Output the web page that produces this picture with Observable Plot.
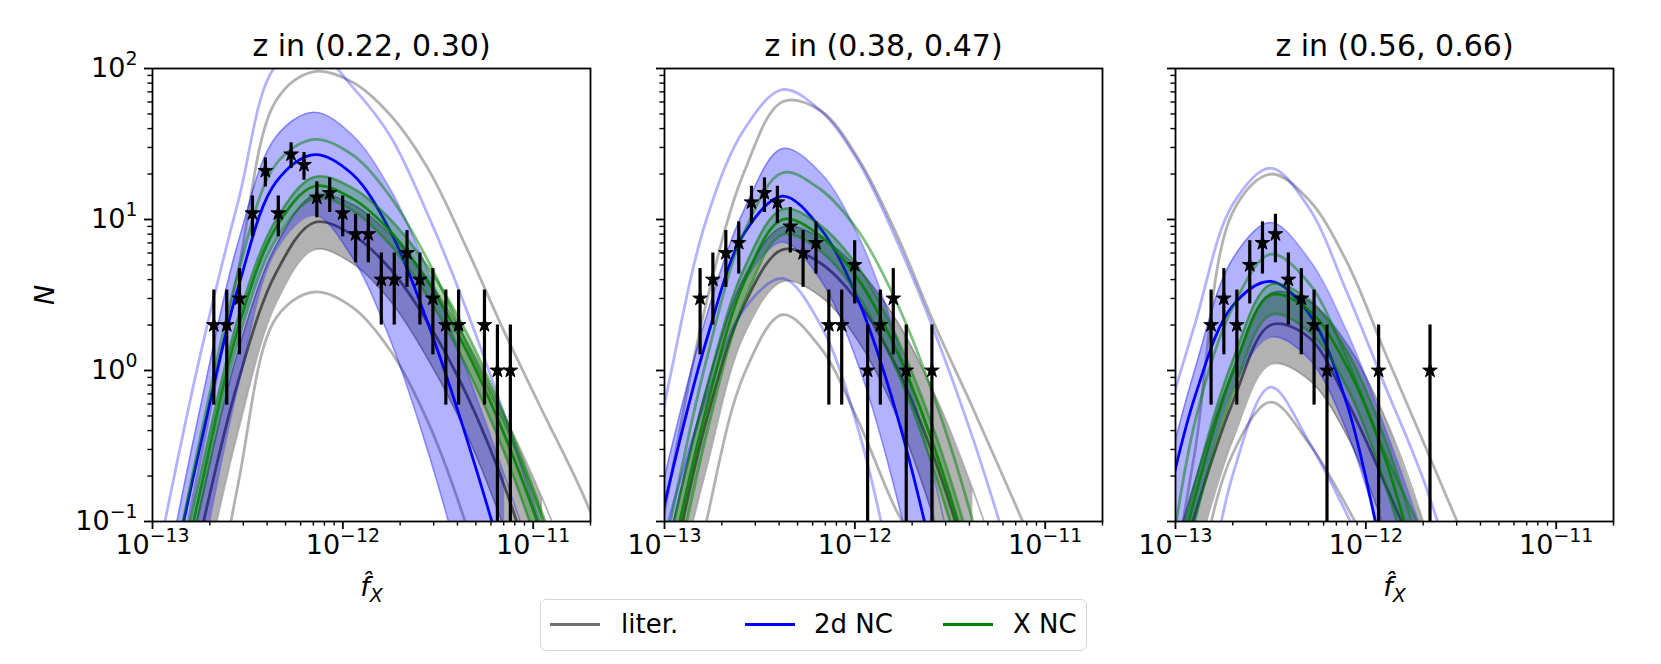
<!DOCTYPE html>
<html><head><meta charset="utf-8">
<script src="https://cdn.jsdelivr.net/npm/d3@7"></script>
<script src="https://cdn.jsdelivr.net/npm/@observablehq/plot@0.6"></script>
<style>
body{margin:0;background:#fff;font-family:"DejaVu Sans",sans-serif;}
#fig{position:relative;width:1661px;height:664px;overflow:hidden;background:#fff;}
#legend{position:absolute;left:540px;top:599px;width:547px;height:52px;box-sizing:border-box;border:1.5px solid #d6d6d6;border-radius:6px;background:rgba(255,255,255,0.8);font-size:26px;color:#000;}
#legend .sw{position:absolute;top:23px;height:3px;width:50px;}
#legend .lb{position:absolute;top:8px;line-height:32px;white-space:nowrap;}
</style></head><body><div id="fig"></div>
<script>
// ---------- data ----------
const titles = ["z in (0.22, 0.30)", "z in (0.38, 0.47)", "z in (0.56, 0.66)"];
const legendLabels = ["liter.", "2d NC", "X NC"];
const xMajor = [1e-13, 1e-12, 1e-11];
const xTickLabels = ["10^\u221213", "10^\u221212", "10^\u221211"];
const xMinor = [2e-13,3e-13,4e-13,5e-13,6e-13,7e-13,8e-13,9e-13,2e-12,3e-12,4e-12,5e-12,6e-12,7e-12,8e-12,9e-12,2e-11];
const yMajor = [0.1, 1, 10, 100];
const yTickLabels = ["10^\u22121", "10^0", "10^1", "10^2"];
const yMinor = [0.2,0.3,0.4,0.5,0.6,0.7,0.8,0.9,2,3,4,5,6,7,8,9,20,30,40,50,60,70,80,90];

// panel 1: z in (0.22, 0.30)
const fX1 = [7.08e-14, 1.12e-13, 1.78e-13, 2.82e-13, 4.47e-13, 7.08e-13, 1.12e-12, 1.78e-12, 2.82e-12, 4.47e-12, 7.08e-12, 1.12e-11, 1.78e-11, 2.82e-11];
const litHi1 = [null, 0.0126, 0.251, 4.57, 61.7, 95.5, 81.3, 49.0, 21.4, 6.46, 1.78, 0.537, 0.162, 0.0398];
const litMid1 = [null, 0.005, 0.0794, 0.851, 4.47, 9.55, 7.94, 4.68, 2.04, 0.692, 0.170, 0.0282, null, null];
const litBandHi1 = [null, 0.0079, 0.126, 1.35, 6.76, 14.5, 12.6, 7.94, 3.98, 1.58, 0.501, 0.141, 0.0316, 0.005];
const litBandLo1 = [null, 0.002, 0.0316, 0.398, 2.82, 6.31, 5.13, 2.88, 1.17, 0.38, 0.0891, 0.0158, null, null];
const litLo1 = [null, null, 0.0063, 0.178, 2.24, 3.31, 2.63, 1.35, 0.447, 0.0933, 0.0126, null, null, null];
const blueHi1 = [0.004, 0.0794, 1.26, 13.2, 105, 132, 75.9, 35.5, 10.5, 2.51, 0.501, 0.0832, 0.0126, null];
const blueBandHi1 = [0.0016, 0.0316, 0.562, 7.08, 35.5, 51.3, 36.3, 15.8, 4.47, 1.0, 0.2, 0.0355, 0.005, null];
const blueMid1 = [0.001, 0.02, 0.316, 3.55, 17.8, 26.9, 20.0, 8.32, 2.0, 0.355, 0.0501, 0.005, null, null];
const blueBandLo1 = [null, 0.00316, 0.0501, 0.794, 6.31, 10.7, 5.62, 1.58, 0.282, 0.0355, 0.00316, null, null, null];
const blueLo1 = null;
const greenHi1 = [0.001, 0.02, 0.355, 4.47, 23.4, 33.9, 26.9, 14.1, 5.25, 1.51, 0.447, 0.105, 0.02, 0.0025];
const greenBandHi1 = [null, 0.0126, 0.2, 2.24, 10.0, 19.1, 16.2, 10.0, 4.79, 1.78, 0.501, 0.112, 0.02, 0.0025];
const greenMid1 = [null, 0.01, 0.158, 1.91, 8.91, 16.6, 13.8, 8.32, 3.8, 1.35, 0.372, 0.0794, 0.0126, null];
const greenBandLo1 = [null, 0.0079, 0.126, 1.58, 7.41, 13.8, 11.5, 6.76, 3.02, 1.05, 0.282, 0.0562, 0.0089, null];
const starFX1 = [2.10e-13, 2.455e-13, 2.864e-13, 3.35e-13, 3.917e-13, 4.58e-13, 5.346e-13, 6.25e-13, 7.3e-13, 8.53e-13, 9.98e-13, 1.167e-12, 1.361e-12, 1.592e-12, 1.862e-12, 2.173e-12, 2.54e-12, 2.972e-12, 3.475e-12, 4.055e-12, 5.546e-12, 6.486e-12, 7.586e-12];
const starN1 = [2, 2, 3, 11, 21, 11, 27, 23, 14, 15, 11, 8, 8, 4, 4, 6, 4, 3, 2, 2, 2, 1, 1];
const starErr1 = [1.41, 1.41, 1.73, 3.32, 4.58, 3.32, 5.2, 4.8, 3.74, 3.87, 3.32, 2.83, 2.83, 2, 2, 2.45, 2, 1.73, 1.41, 1.41, 1.41, 1, 1];

// panel 2: z in (0.38, 0.47)
const fX2 = [6.61e-14, 1.047e-13, 1.66e-13, 2.63e-13, 4.17e-13, 6.61e-13, 1.047e-12, 1.66e-12, 2.63e-12, 4.17e-12, 6.61e-12, 1.047e-11, 1.66e-11, 2.63e-11];
const litHi2 = [0.005, 0.158, 2.82, 20.9, 60.3, 52.5, 25.1, 7.94, 2.0, 0.562, 0.151, 0.0398, 0.01, null];
const litMid2 = [0.002, 0.0355, 0.468, 2.75, 6.31, 5.13, 2.82, 1.05, 0.257, 0.0417, 0.005, null, null, null];
const litBandHi2 = [0.00447, 0.0708, 0.759, 4.17, 8.91, 7.59, 4.68, 2.14, 0.692, 0.162, 0.0282, 0.00355, null, null];
const litBandLo2 = [0.00126, 0.02, 0.224, 1.74, 3.89, 3.09, 1.55, 0.501, 0.1, 0.0126, null, null, null, null];
const litLo2 = [null, 0.005, 0.1, 0.955, 2.34, 1.41, 0.457, 0.117, 0.0447, 0.0158, null, null, null, null];
const blueHi2 = [0.0398, 0.794, 10.0, 39.8, 72.4, 52.5, 24.0, 7.24, 1.78, 0.355, 0.0562, 0.00794, null, null];
const blueBandHi2 = [0.0178, 0.251, 2.29, 11.7, 29.5, 20.4, 7.76, 1.62, 0.186, 0.0126, null, null, null, null];
const blueMid2 = [0.0112, 0.166, 1.58, 8.13, 14.3, 8.71, 2.88, 0.513, 0.0501, 0.0025, null, null, null, null];
const blueBandLo2 = [0.00398, 0.0676, 0.708, 3.89, 7.08, 3.98, 1.07, 0.145, 0.01, null, null, null, null, null];
const blueLo2 = [0.01, 0.1, 0.661, 2.57, 4.07, 2.0, 0.398, 0.0316, 0.001, null, null, null, null, null];
const greenHi2 = [0.00398, 0.0851, 1.17, 8.32, 20.4, 15.8, 8.32, 2.82, 0.646, 0.1, 0.01, null, null, null];
const greenBandHi2 = [0.00398, 0.0676, 0.759, 4.79, 11.7, 9.12, 4.79, 1.66, 0.389, 0.0603, 0.0063, null, null, null];
const greenMid2 = [0.0025, 0.0447, 0.562, 3.89, 10.0, 7.76, 3.98, 1.35, 0.302, 0.0447, 0.00398, null, null, null];
const greenBandLo2 = [0.00126, 0.0251, 0.372, 2.88, 7.94, 6.17, 3.09, 1.0, 0.209, 0.0288, 0.0025, null, null, null];
const starFX2 = [1.538e-13, 1.795e-13, 2.10e-13, 2.455e-13, 2.864e-13, 3.35e-13, 3.917e-13, 4.58e-13, 5.346e-13, 6.25e-13, 7.3e-13, 8.53e-13, 9.98e-13, 1.167e-12, 1.361e-12, 1.592e-12, 1.862e-12, 2.54e-12];
const starN2 = [3, 4, 6, 7, 13, 15, 13, 9, 6, 7, 2, 2, 5, 1, 2, 3, 1, 1];
const starErr2 = [1.73, 2, 2.45, 2.65, 3.61, 3.87, 3.61, 3, 2.45, 2.65, 1.41, 1.41, 2.24, 1, 1.41, 1.73, 1, 1];

// panel 3: z in (0.56, 0.66)
const fX3 = [7.94e-14, 1.26e-13, 2.0e-13, 3.16e-13, 5.01e-13, 7.94e-13, 1.26e-12, 2.0e-12, 3.16e-12, 5.01e-12, 7.94e-12, 1.26e-11, 2.0e-11, 3.16e-11];
const litHi3 = [0.01, 0.282, 11.2, 20.0, 13.5, 5.25, 1.32, 0.339, 0.0871, 0.0224, 0.005, null, null, null];
const litMid3 = [0.0126, 0.11, 0.617, 2.0, 1.66, 0.631, 0.178, 0.0447, 0.00794, null, null, null, null, null];
const litBandHi3 = [0.0224, 0.182, 1.0, 3.24, 2.88, 1.51, 0.49, 0.1, 0.0105, null, null, null, null, null];
const litBandLo3 = [0.005, 0.0525, 0.347, 1.1, 0.871, 0.372, 0.0871, 0.01, null, null, null, null, null, null];
const litLo3 = [0.00158, 0.0316, 0.282, 0.617, 0.331, 0.126, 0.0398, 0.01, null, null, null, null, null, null];
const blueHi3 = [0.282, 2.0, 12.6, 21.9, 12.0, 3.31, 0.794, 0.191, 0.0316, 0.00398, null, null, null, null];
const blueBandHi3 = [0.112, 1.0, 5.5, 9.55, 5.5, 1.82, 0.417, 0.0794, 0.0112, null, null, null, null, null];
const blueMid3 = [0.0631, 0.661, 2.69, 3.89, 2.4, 0.603, 0.0501, 0.00316, null, null, null, null, null, null];
const blueBandLo3 = [0.01, 0.1, 0.759, 1.66, 1.2, 0.398, 0.0631, 0.0063, null, null, null, null, null, null];
const blueLo3 = [null, 0.01, 0.204, 0.776, 0.339, 0.112, 0.0316, 0.0063, null, null, null, null, null, null];
const greenHi3 = [0.0126, 0.447, 2.63, 5.89, 3.8, 1.2, 0.282, 0.0794, 0.0158, 0.0025, null, null, null, null];
const greenBandHi3 = [0.0148, 0.174, 1.17, 3.72, 2.95, 1.35, 0.355, 0.0537, 0.00468, null, null, null, null, null];
const greenMid3 = [0.0117, 0.141, 0.977, 3.16, 2.51, 1.07, 0.263, 0.0331, 0.0025, null, null, null, null, null];
const greenBandLo3 = [0.0079, 0.1, 0.708, 2.34, 1.82, 0.776, 0.178, 0.0214, 0.0014, null, null, null, null, null];
const starFX3 = [1.538e-13, 1.795e-13, 2.10e-13, 2.455e-13, 2.864e-13, 3.35e-13, 3.917e-13, 4.58e-13, 5.346e-13, 6.25e-13, 1.167e-12, 2.173e-12];
const starN3 = [2, 3, 2, 5, 7, 8, 4, 3, 2, 1, 1, 1];
const starErr3 = [1.41, 1.73, 1.41, 2.24, 2.65, 2.83, 2, 1.73, 1.41, 1, 1, 1];

// ---------- build ----------
const panels = [
  {fX: fX1, litHi: litHi1, litMid: litMid1, litBandHi: litBandHi1, litBandLo: litBandLo1, litLo: litLo1,
   blueHi: blueHi1, blueBandHi: blueBandHi1, blueMid: blueMid1, blueBandLo: blueBandLo1, blueLo: blueLo1,
   greenHi: greenHi1, greenBandHi: greenBandHi1, greenMid: greenMid1, greenBandLo: greenBandLo1,
   sx: starFX1, sn: starN1, se: starErr1, title: titles[0], yLabels: true, xLabel: true},
  {fX: fX2, litHi: litHi2, litMid: litMid2, litBandHi: litBandHi2, litBandLo: litBandLo2, litLo: litLo2,
   blueHi: blueHi2, blueBandHi: blueBandHi2, blueMid: blueMid2, blueBandLo: blueBandLo2, blueLo: blueLo2,
   greenHi: greenHi2, greenBandHi: greenBandHi2, greenMid: greenMid2, greenBandLo: greenBandLo2,
   sx: starFX2, sn: starN2, se: starErr2, title: titles[1], yLabels: false, xLabel: false},
  {fX: fX3, litHi: litHi3, litMid: litMid3, litBandHi: litBandHi3, litBandLo: litBandLo3, litLo: litLo3,
   blueHi: blueHi3, blueBandHi: blueBandHi3, blueMid: blueMid3, blueBandLo: blueBandLo3, blueLo: blueLo3,
   greenHi: greenHi3, greenBandHi: greenBandHi3, greenMid: greenMid3, greenBandLo: greenBandLo3,
   sx: starFX3, sn: starN3, se: starErr3, title: titles[2], yLabels: false, xLabel: true}
];
const boxes = [{left:0,width:627,ml:152,mr:37},{left:627,width:510,ml:37,mr:35},{left:1137,width:524,ml:38,mr:48}];
const C = "catmull-rom";
const ser = (fX, a) => a ? fX.map((x,i)=>({x, y:a[i]})).filter(d=>d.y!=null) : [];
const bnd = (fX, lo, hi) => fX.map((x,i)=>({x, lo:lo[i], hi:hi[i]})).filter(d=>d.lo!=null && d.hi!=null);
const pts = (fx, n, e) => fx.map((x,i)=>({x, n:n[i], lo: n[i]-e[i] > 0 ? n[i]-e[i] : 1e-3, hi: n[i]+e[i]}));

function fixText(svg){
  d3.select(svg).selectAll("text").each(function(){
    const t = this.textContent;
    let m = t.match(/^(10)\^(.+)$/);
    if (m) {
      this.textContent = "";
      const s = d3.select(this);
      s.append("tspan").text(m[1]);
      s.append("tspan").attr("dy","-0.62em").attr("font-size","0.7em").text(m[2]);
      return;
    }
    m = t.match(/^(.+)_(.+)$/);
    if (m) {
      this.textContent = "";
      const s = d3.select(this);
      s.append("tspan").text(m[1]);
      s.append("tspan").attr("dy","0.3em").attr("font-size","0.7em").text(m[2]);
    }
  });
}

const fig = document.getElementById("fig");
panels.forEach((p, k) => {
  const b = boxes[k];
  const line = (arr, stroke, op, sw) => Plot.line(ser(p.fX, arr), {x:"x", y:"y", stroke, strokeOpacity: op, strokeWidth: sw, curve: C, clip: true});
  const area = (lo, hi, fill, op) => Plot.areaY(bnd(p.fX, lo, hi), {x:"x", y1:"lo", y2:"hi", fill, fillOpacity: op, curve: C, clip: true});
  const stars = pts(p.sx, p.sn, p.se);
  const marks = [
    area(p.litBandLo, p.litBandHi, "black", 0.3),
    line(p.litBandHi, "black", 0.3, 1.7),
    line(p.litBandLo, "black", 0.3, 1.7),
    line(p.litHi, "black", 0.3, 2.8),
    line(p.litLo, "black", 0.3, 2.8),
    line(p.litMid, "black", 0.57, 2.8),
    area(p.blueBandLo, p.blueBandHi, "blue", 0.3),
    line(p.blueBandHi, "blue", 0.3, 1.7),
    line(p.blueBandLo, "blue", 0.3, 1.7),
    line(p.blueHi, "blue", 0.3, 2.8),
    line(p.blueLo, "blue", 0.3, 2.8),
    line(p.blueMid, "blue", 1, 2.8),
    area(p.greenBandLo, p.greenBandHi, "green", 0.3),
    line(p.greenBandHi, "green", 0.5, 2.6),
    line(p.greenBandLo, "green", 0.5, 2.6),
    line(p.greenHi, "green", 0.5, 2.8),
    line(p.greenMid, "green", 0.85, 2.8),
    Plot.ruleX(stars, {x:"x", y1:"lo", y2:"hi", stroke:"black", strokeWidth:3.2, clip:true}),
    Plot.dot(stars, {x:"x", y:"n", symbol:"star", r:4.6, fill:"black", stroke:"black", strokeWidth:1}),
    Plot.frame({stroke:"black", strokeWidth:1.8}),
    Plot.axisX({ticks: xMajor, tickSize: 8, tickPadding: 5, strokeWidth: 1.8, fontSize: 27, label: null,
      tickFormat: d => xTickLabels[xMajor.indexOf(d)]}),
    Plot.axisX({ticks: xMinor, tickSize: 4.6, strokeWidth: 1.4, label: null, tickFormat: () => ""}),
    Plot.axisY({ticks: yMajor, tickSize: 8, tickPadding: 7, strokeWidth: 1.8, fontSize: 27, label: null,
      tickFormat: d => p.yLabels ? yTickLabels[yMajor.indexOf(d)] : ""}),
    Plot.axisY({ticks: yMinor, tickSize: 4.6, strokeWidth: 1.4, label: null, tickFormat: () => ""}),
    Plot.text([p.title], {frameAnchor: "top", dy: -13, lineAnchor: "bottom", fontSize: 30})
  ];
  if (p.yLabels) marks.push(Plot.text(["N"], {frameAnchor: "left", dx: -107, rotate: -90, textAnchor: "middle", lineAnchor: "middle", fontSize: 27, fontStyle: "italic"}));
  if (p.xLabel) marks.push(Plot.text(["f\u0302_X"], {frameAnchor: "bottom", dy: 66, lineAnchor: "middle", fontSize: 27, fontStyle: "italic"}));
  const chart = Plot.plot({
    width: b.width, height: 664, marginLeft: b.ml, marginRight: b.mr, marginTop: 68, marginBottom: 143,
    x: {type: "log", domain: [1e-13, 2e-11], label: null},
    y: {type: "log", domain: [0.1, 100], label: null},
    style: {fontFamily: "DejaVu Sans", fontSize: "27px", color: "black", background: "none", overflow: "visible"},
    marks
  });
  fixText(chart);
  chart.style.position = "absolute";
  chart.style.left = b.left + "px";
  chart.style.top = "0px";
  fig.appendChild(chart);
});

// legend
const leg = document.createElement("div");
leg.id = "legend";
const legColors = ["#6f6f6f", "blue", "green"];
const swLeft = [9, 204, 402], lbLeft = [80, 273, 472];
legendLabels.forEach((t, i) => {
  const sw = document.createElement("div"); sw.className = "sw"; sw.style.left = swLeft[i] + "px"; sw.style.background = legColors[i]; leg.appendChild(sw);
  const lb = document.createElement("div"); lb.className = "lb"; lb.style.left = lbLeft[i] + "px"; lb.textContent = t; leg.appendChild(lb);
});
fig.appendChild(leg);
</script></body></html>
